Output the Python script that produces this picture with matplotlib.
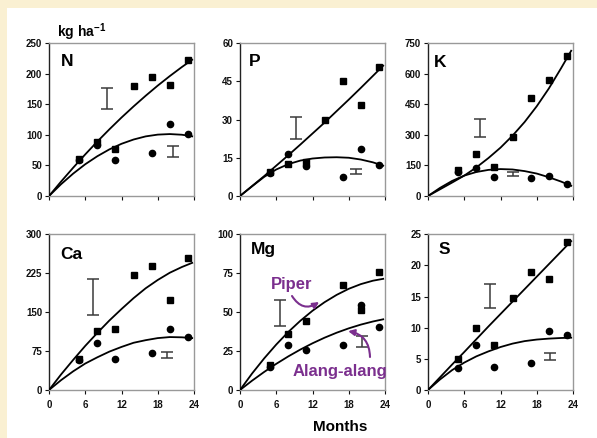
import matplotlib
matplotlib.use('Agg')
import matplotlib.pyplot as plt
import numpy as np
from matplotlib.patches import Rectangle

plt.rcParams['font.family'] = ['Liberation Sans', 'DejaVu Sans']
plt.rcParams['font.weight'] = 'bold'
plt.rcParams['mathtext.fontset'] = 'custom'
plt.rcParams['mathtext.rm'] = 'Liberation Sans:bold'
plt.rcParams['mathtext.bf'] = 'Liberation Sans:bold'

# ---------------- data ----------------
panel_names = ['N', 'P', 'K', 'Ca', 'Mg', 'S']
months_piper = [5, 8, 11, 14, 17, 20, 23]
months_alang = [5, 8, 11, 17, 20, 23]
curve_months = [0, 2, 4, 6, 8, 10, 12, 14, 16, 18, 20, 22, 23.7]

N_piper = [61, 88, 77, 179, 195, 182, 223]
N_alang = [59, 84, 59, 70, 117, 101]
P_piper = [9.5, 12.6, 13.2, 30.0, 45.1, 35.5, 50.5]
P_alang = [9.2, 16.6, 11.7, 7.4, 18.3, 12.1]
K_piper = [128, 207, 142, 290, 480, 570, 684]
K_alang = [116, 137, 93, 87, 99, 59]
Ca_piper = [60, 114, 118, 222, 238, 173, 255]
Ca_alang = [58, 90, 60, 71, 118, 102]
Mg_piper = [16, 36, 44, np.nan, 67.5, 51.5, 75.5]
Mg_alang = [15, 29, 25.7, 28.7, 54.5, 40.7]
S_piper = [4.97, 10.0, 7.26, 14.7, 19.0, 17.9, 23.8]
S_alang = [3.6, 7.2, 3.7, 4.3, 9.5, 8.8]

N_piper_fit = [0, 23.6, 46.2, 68, 89, 109, 128.2, 146.4, 163.8, 180.4, 196, 210.8, 222.6]
N_alang_fit = [0, 19.3, 36.6, 51.9, 65, 76.2, 85.3, 92.3, 97.4, 100.3, 101.2, 100.1, 97.5]
P_piper_fit = [0, 3.9, 7.8, 11.9, 16.0, 20.2, 24.5, 28.8, 33.3, 37.8, 42.4, 47.1, 51.1]
P_alang_fit = [0, 3.8, 7.5, 10.4, 12.5, 13.9, 14.7, 15.1, 15.2, 15.0, 14.3, 13.2, 11.9]
K_piper_fit = [0, 33, 66, 100, 140, 186, 237, 296, 363, 440, 527, 625, 712]
K_alang_fit = [0, 40, 74, 100, 117.6, 128, 132, 130, 122, 110, 92, 71, 50]
Ca_piper_fit = [0, 30, 58, 85, 110, 134, 156, 177, 196, 212, 226, 237, 245]
Ca_alang_fit = [0, 19, 36, 51, 63, 74, 83, 91, 96, 100, 102, 101.5, 100]
Mg_piper_fit = [0, 10.6, 20.3, 29.2, 37.3, 44.5, 50.9, 56.4, 61.1, 65, 68, 70.2, 71.4]
Mg_alang_fit = [0, 6, 11.6, 16.8, 21.6, 26, 30, 33.6, 36.8, 39.6, 42, 44, 45.4]
S_piper_fit = [0, 2.05, 4.1, 6.1, 8.15, 10.2, 12.2, 14.2, 16.2, 18.2, 20.2, 22.2, 23.9]
S_alang_fit = [0, 1.7, 3.2, 4.4, 5.4, 6.2, 6.9, 7.45, 7.85, 8.1, 8.25, 8.35, 8.4]

# LSD bars (month, low, high)
lsd_piper_x = [9.6, 9.3, 8.6, 7.3, 6.7, 10.25]
lsd_piper_lo = [142, 22.3, 289, 144, 41.3, 13.1]
lsd_piper_hi = [177, 30.9, 378, 214, 57.8, 17.1]
lsd_alang_x = [20.5, 19.2, 14.06, 19.6, 20.2, 20.2]
lsd_alang_lo = [64, 8.5, 100, 61, 27.4, 4.8]
lsd_alang_hi = [81, 10.4, 120, 72.6, 34.7, 5.9]

y_max = [250, 60, 750, 300, 100, 25]
y_step = [50, 15, 150, 75, 25, 5]
x_ticks = [0, 6, 12, 18, 24]

piper_values = [N_piper, P_piper, K_piper, Ca_piper, Mg_piper, S_piper]
alang_values = [N_alang, P_alang, K_alang, Ca_alang, Mg_alang, S_alang]
piper_fits = [N_piper_fit, P_piper_fit, K_piper_fit, Ca_piper_fit, Mg_piper_fit, S_piper_fit]
alang_fits = [N_alang_fit, P_alang_fit, K_alang_fit, Ca_alang_fit, Mg_alang_fit, S_alang_fit]

# ---------------- layout ----------------
W, H = 597, 438
fig = plt.figure(figsize=(W / 100, H / 100), dpi=100)
fig.patch.set_facecolor('#FAF0D2')
fig.add_artist(Rectangle((7 / W, 0), 1 - 7 / W, (H - 8) / H, transform=fig.transFigure,
                         facecolor='white', edgecolor='none', zorder=-10))

lefts = [49, 240, 428]
label_pos = [(0.08, 0.93), (0.06, 0.93), (0.04, 0.92), (0.08, 0.92), (0.075, 0.95), (0.075, 0.95)]
purple = '#7B2F8E'

axes = []
for i, name in enumerate(panel_names):
    r, c = divmod(i, 3)
    if r == 0:
        bottom, height = 242, 153
    else:
        bottom, height = 48, 155.7
    ax = fig.add_axes([lefts[c] / W, bottom / H, 145 / W, height / H])
    axes.append(ax)

    ax.plot(curve_months, piper_fits[i], color='black', lw=1.3, zorder=3)
    ax.plot(curve_months, alang_fits[i], color='black', lw=1.3, zorder=3)
    ax.plot(months_piper, piper_values[i], 's', color='black', ms=4.2, zorder=4)
    ax.plot(months_alang, alang_values[i], 'o', color='black', ms=4.5, zorder=4)

    for xs, lo, hi in ((lsd_piper_x, lsd_piper_lo, lsd_piper_hi),
                       (lsd_alang_x, lsd_alang_lo, lsd_alang_hi)):
        c_ = (lo[i] + hi[i]) / 2
        h_ = (hi[i] - lo[i]) / 2
        ax.errorbar([xs[i]], [c_], yerr=[h_], fmt='none', ecolor='#3a3a3a',
                    elinewidth=1.1, capsize=4.5, capthick=1.1, zorder=2)

    ax.set_xlim(0, 24)
    ax.set_ylim(0, y_max[i])
    ax.set_xticks(x_ticks)
    ax.set_yticks(np.arange(0, y_max[i] + 0.01, y_step[i]))
    ax.tick_params(axis='both', direction='out', length=3, width=0.8, labelsize=7,
                   colors='#111111')
    ax.tick_params(axis='y', pad=2)
    ax.tick_params(axis='x', pad=4, labelbottom=(r == 1))
    for sp in ('top', 'right', 'bottom'):
        ax.spines[sp].set_color('#999999')
        ax.spines[sp].set_linewidth(1.0)
    ax.spines['left'].set_color('#222222')
    ax.spines['left'].set_linewidth(1.0)

    lx, ly = label_pos[i]
    ax.text(lx, ly, name, transform=ax.transAxes, fontsize=12.5, fontweight='bold',
            ha='left', va='top')

fig.text(82 / W, 1 - 32 / H, r'kg ha$^{-1}$', ha='center', va='center', fontsize=10,
         fontweight='bold')
fig.text(340 / W, 1 - 427 / H, 'Months', ha='center', va='center', fontsize=11,
         fontweight='bold')

# Annotations in Mg panel
axm = axes[4]
fig.text(291.7 / W, 1 - 284 / H, 'Piper', color=purple, ha='center', va='center',
         fontsize=12, fontweight='bold')
fig.text(340 / W, 1 - 371.7 / H, 'Alang-alang', color=purple, ha='center', va='center',
         fontsize=12, fontweight='bold')
axm.annotate('', xy=(13.1, 56.5), xycoords='data', xytext=(292, H - 296),
             textcoords='figure pixels',
             arrowprops=dict(arrowstyle='-|>', color=purple, lw=1.5, mutation_scale=9,
                             connectionstyle='arc3,rad=0.5', shrinkA=0, shrinkB=0))
axm.annotate('', xy=(17.9, 37.8), xycoords='data', xytext=(370, H - 357),
             textcoords='figure pixels',
             arrowprops=dict(arrowstyle='-|>', color=purple, lw=1.5, mutation_scale=9,
                             connectionstyle='arc3,rad=0.4', shrinkA=0, shrinkB=0))

fig.savefig('out.png', dpi=100, facecolor=fig.get_facecolor())
